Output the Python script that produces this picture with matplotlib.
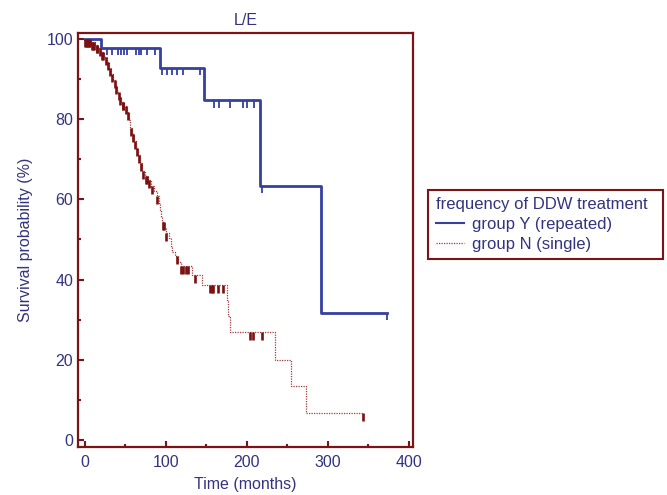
import numpy as np
import matplotlib
matplotlib.use('Agg')
import matplotlib.pyplot as plt
from matplotlib.ticker import MultipleLocator
from matplotlib.lines import Line2D
from matplotlib.patches import Rectangle

plt.rcParams['font.family'] = ['Liberation Sans', 'DejaVu Sans']

# group Y (repeated): event times (months) and survival (%) after each event
y_event_times = [20, 93, 147, 216, 292]
y_surv = [97.8, 92.8, 84.7, 63.4, 31.7]
y_censor = [28, 34, 41, 45, 49, 53, 64, 67.5, 70, 77, 87,
            96, 101.5, 108, 114.5, 122, 143,
            159.5, 166, 180, 196, 200, 209.5, 218.5, 373]
y_end = 373

# group N (single)
n_event_times = [8, 13.5, 17.2, 20.9, 24.5, 28.2, 30.7, 33.1, 35.6, 38.0, 40.5,
                 42.9, 45.4, 49.1, 52.8, 55.2, 56.4, 58.9, 61.3, 63.8, 66.3,
                 68.7, 71.2, 74.8, 78.5, 82.2, 85.9, 89.6, 92.0, 93.3, 94.5,
                 95.7, 98.2, 100.6, 104.3, 106.7, 108.0, 111.7, 115.3, 119.0,
                 132.5, 144.8, 175.5, 177.3, 179.1, 235.2, 254.8, 273.3]
n_surv = [99.2, 98.5, 97.8, 96.8, 95.5, 94.3, 92.8, 91.3, 89.8, 88.3, 86.8,
          85.5, 84.3, 83.3, 81.8, 79.8, 77.8, 76.3, 74.6, 72.8, 71.1,
          69.1, 67.1, 65.8, 64.8, 63.3, 62.1, 60.8, 59.1, 57.4, 55.6,
          54.4, 52.9, 51.6, 50.4, 48.4, 46.9, 45.9, 44.4, 43.4,
          41.1, 38.7, 35.0, 31.0, 26.9, 20.0, 13.3, 6.7]
n_censor = [1, 2, 3, 4, 5, 7, 9, 11, 12, 15, 16, 19, 22, 23, 26, 29, 32, 34,
            37, 39, 42, 44, 47, 48, 51, 54, 57, 60, 62, 65, 67, 70, 72, 76,
            77, 80, 83, 90, 97, 98, 101, 113.7, 119, 122, 125, 128, 136,
            154.6, 156.7, 158.7, 164.8, 171, 203.7, 207.7, 219.3, 344]
n_end = 344

c_spine = '#7a1416'
c_text = '#33337f'
c_blue = '#3540a0'
c_red = '#a33a3a'
c_red_tick = '#7a1010'


def surv_at(times, surv, t):
    idx = np.searchsorted(times, t, side='right') - 1
    return np.where(idx < 0, 100.0, np.array(surv)[np.clip(idx, 0, None)])


fig = plt.figure(figsize=(6.67, 4.95), dpi=100)
ax = fig.add_axes([0.117, 0.097, 0.502, 0.836])

# group Y
xs = [0] + y_event_times + [y_end]
ys = [100] + y_surv + [y_surv[-1]]
ax.step(xs, ys, where='post', color=c_blue, lw=2.0, zorder=3)
yc = surv_at(y_event_times, y_surv, np.array(y_censor))
ax.vlines(y_censor, yc - 1.8, yc, color=c_blue, lw=1.3, zorder=3)

# group N
xs = [0] + n_event_times + [n_end]
ys = [100] + n_surv + [n_surv[-1]]
ax.step(xs, ys, where='post', color=c_red, lw=0.9, ls=(0, (1, 1)), zorder=4)
nc = surv_at(n_event_times, n_surv, np.array(n_censor))
ax.vlines(n_censor, nc - 2.0, nc, color=c_red_tick, lw=1.9, zorder=4)

ax.set_xlim(-8, 405)
ax.set_ylim(-1.8, 101.5)
ax.xaxis.set_major_locator(MultipleLocator(100))
ax.xaxis.set_minor_locator(MultipleLocator(50))
ax.yaxis.set_major_locator(MultipleLocator(20))
ax.yaxis.set_minor_locator(MultipleLocator(10))

for s in ax.spines.values():
    s.set_color(c_spine)
    s.set_linewidth(1.6)
ax.tick_params(which='both', direction='in', color=c_spine, width=1.5,
               labelcolor=c_text, labelsize=11.5)
ax.tick_params(which='major', length=4.5)
ax.tick_params(which='minor', length=2.5)
ax.tick_params(axis='x', pad=6)

ax.set_title('L/E', color=c_text, fontsize=11.5, pad=6)
ax.set_xlabel('Time (months)', color=c_text, fontsize=11.5, labelpad=5)
ax.set_ylabel('Survival probability (%)', color=c_text, fontsize=11.5, labelpad=10)

# legend box drawn by hand so it keeps the wider frame of the original
fig.patches.append(Rectangle((428 / 667, 1 - 259 / 495), 235 / 667, 69 / 495,
                             transform=fig.transFigure, fill=False,
                             edgecolor=c_spine, lw=1.5))
handles = [Line2D([], [], color=c_blue, lw=1.5),
           Line2D([], [], color=c_red, lw=0.9, ls=(0, (1, 1)))]
leg = fig.legend(handles, ['group Y (repeated)', 'group N (single)'],
                 title='frequency of DDW treatment', alignment='left',
                 loc='upper left', bbox_to_anchor=(430 / 667, 1 - 191 / 495),
                 bbox_transform=fig.transFigure, borderaxespad=0,
                 frameon=False, fontsize=12, title_fontsize=12,
                 handlelength=1.7, handletextpad=0.45, labelspacing=0.3,
                 borderpad=0.35)
leg.get_title().set_color(c_text)
for t in leg.get_texts():
    t.set_color(c_text)

fig.savefig('out.png', dpi=100)
